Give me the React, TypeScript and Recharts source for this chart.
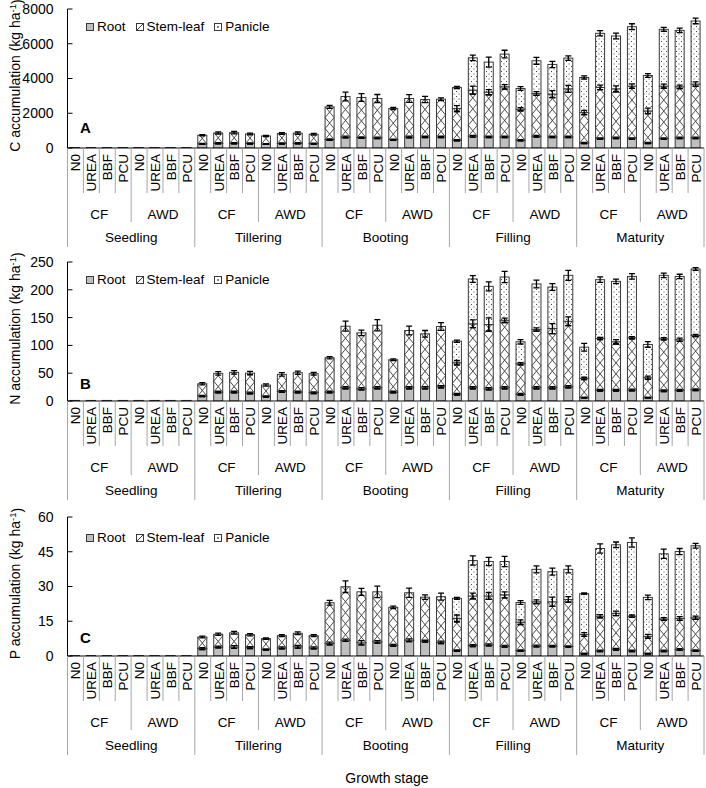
import React from 'react';
import { BarChart, Bar, XAxis, YAxis, Legend } from 'recharts';

const FONT = '"Liberation Sans", Arial, Helvetica, sans-serif';

const stages = ['Seedling', 'Tillering', 'Booting', 'Filling', 'Maturity'];
const regimes = ['CF', 'AWD'];
const fertilizers = ['N0', 'UREA', 'BBF', 'PCU'];
const seriesNames = ['Root', 'Stem-leaf', 'Panicle'];

// segment values (not cumulative), in category order: stage > regime > fertilizer
// C accumulation (kg ha-1)
const cRoot = [12, 12, 12, 12, 12, 12, 12, 12, 240, 270, 270, 260, 230, 260, 270, 250, 485, 635, 600, 585, 480, 635, 635, 635, 445, 675, 635, 635, 445, 675, 635, 635, 290, 540, 585, 540, 290, 540, 585, 585];
const cStem = [18, 18, 18, 18, 18, 18, 18, 18, 493, 596, 610, 548, 462, 570, 580, 540, 1880, 2330, 2308, 2265, 1790, 2215, 2155, 2175, 1825, 2655, 2580, 2885, 1790, 2465, 2465, 2770, 1750, 2945, 2820, 3020, 1845, 3020, 2935, 3090];
const cPanicle = [0, 0, 0, 0, 0, 0, 0, 0, 0, 0, 0, 0, 0, 0, 0, 0, 0, 0, 0, 0, 0, 0, 0, 0, 1215, 1860, 1730, 1885, 1190, 1880, 1710, 1770, 2020, 3115, 3040, 3420, 2040, 3270, 3250, 3635];
const cRootErr = [0, 0, 0, 0, 0, 0, 0, 0, 30, 35, 35, 30, 25, 30, 35, 30, 40, 45, 40, 40, 35, 45, 40, 40, 30, 50, 40, 40, 30, 45, 40, 40, 30, 40, 40, 40, 30, 40, 40, 40];
const cStemErr = [0, 0, 0, 0, 0, 0, 0, 0, 40, 60, 70, 50, 40, 50, 70, 50, 80, 250, 220, 230, 60, 220, 180, 80, 170, 230, 150, 130, 90, 110, 200, 200, 120, 130, 170, 130, 160, 120, 100, 130];
const cPanicleErr = [0, 0, 0, 0, 0, 0, 0, 0, 0, 0, 0, 0, 0, 0, 0, 0, 0, 0, 0, 0, 0, 0, 0, 0, 60, 160, 290, 220, 110, 200, 180, 130, 90, 150, 170, 170, 110, 110, 130, 160];
const cTicks = [0, 2000, 4000, 6000, 8000];

// N accumulation (kg ha-1)
const nRoot = [0.4, 0.4, 0.4, 0.4, 0.4, 0.4, 0.4, 0.4, 9, 16, 16, 14.5, 8, 17, 16, 15, 16, 24, 22, 24, 16, 24, 23.7, 25.8, 12, 24, 22, 24, 12, 24, 24, 25.8, 6, 19.2, 19.2, 19.8, 6, 18.6, 19.2, 20.4];
const nStem = [0.6, 0.6, 0.6, 0.6, 0.6, 0.6, 0.6, 0.6, 22, 33.7, 35.5, 35.7, 20.7, 30.9, 34.9, 34.1, 61.8, 110.5, 100.6, 112.3, 58.2, 102.8, 97.1, 108.2, 56.8, 114.8, 115.5, 121.2, 55, 104.6, 106.3, 117.6, 34.7, 93.2, 87.3, 93.9, 35.9, 93.3, 90.9, 97.4];
const nPanicle = [0, 0, 0, 0, 0, 0, 0, 0, 0, 0, 0, 0, 0, 0, 0, 0, 0, 0, 0, 0, 0, 0, 0, 0, 38.8, 80.7, 68.7, 77.8, 39.5, 81.9, 74.7, 82.6, 56.1, 105.8, 108.7, 110.4, 59.8, 114.1, 113.9, 119.6];
const nRootErr = [0, 0, 0, 0, 0, 0, 0, 0, 1, 1.5, 1.5, 1.5, 1, 1.5, 1.5, 1.5, 1.5, 2, 2, 2, 1.5, 2, 2, 2, 1.5, 2, 2, 2, 1.5, 2, 2, 2, 1, 1.5, 1.5, 1.5, 1, 1.5, 1.5, 1.5];
const nStemErr = [0, 0, 0, 0, 0, 0, 0, 0, 2, 3, 3, 3, 2, 3, 3, 2.5, 2, 9, 5, 10, 1.5, 8, 6, 7, 4, 7, 12, 4, 2, 3, 9, 8, 2, 2, 4, 2, 3, 2, 3, 2];
const nPanicleErr = [0, 0, 0, 0, 0, 0, 0, 0, 0, 0, 0, 0, 0, 0, 0, 0, 0, 0, 0, 0, 0, 0, 0, 0, 2, 6, 8, 10, 4, 7, 6, 9, 7, 5, 4, 5, 5, 4, 4, 2.5];
const nTicks = [0, 50, 100, 150, 200, 250];

// P accumulation (kg ha-1)
const pRoot = [0.08, 0.08, 0.08, 0.08, 0.08, 0.08, 0.08, 0.08, 3.2, 3.9, 3.9, 3.6, 2.8, 3.5, 4.0, 3.5, 5.4, 6.8, 5.7, 6.1, 4.6, 6.8, 6.4, 5.9, 2.3, 4.5, 4.8, 4.2, 2.3, 4.3, 4.3, 4.1, 1.0, 2.2, 2.9, 2.2, 1.0, 2.2, 2.8, 2.3];
const pStem = [0.12, 0.12, 0.12, 0.12, 0.12, 0.12, 0.12, 0.12, 5, 5.5, 6.1, 5.6, 4.7, 5.3, 5.8, 5.3, 17.6, 23.1, 22, 21.6, 16.4, 20.5, 19, 19.7, 13.9, 21.4, 21.1, 22.2, 12.3, 19.1, 19.1, 20.3, 8.3, 15, 15.5, 15, 7.5, 13.8, 13.4, 14.2];
const pPanicle = [0, 0, 0, 0, 0, 0, 0, 0, 0, 0, 0, 0, 0, 0, 0, 0, 0, 0, 0, 0, 0, 0, 0, 0, 8.7, 15.3, 14.9, 14.4, 8.5, 14, 13, 13, 17.6, 29.2, 29.6, 31.8, 16.8, 28.1, 28.9, 31.1];
const pRootErr = [0, 0, 0, 0, 0, 0, 0, 0, 0.4, 0.4, 0.6, 0.4, 0.3, 0.4, 0.6, 0.4, 0.6, 0.5, 0.9, 0.5, 0.4, 0.6, 0.4, 0.5, 0.3, 0.4, 0.4, 0.4, 0.3, 0.4, 0.3, 0.3, 0.2, 0.3, 0.4, 0.3, 0.2, 0.3, 0.4, 0.3];
const pStemErr = [0, 0, 0, 0, 0, 0, 0, 0, 0.4, 0.5, 0.6, 0.5, 0.3, 0.4, 0.6, 0.4, 1, 2.5, 1.5, 2.5, 0.5, 2, 1, 1.5, 1.5, 1.2, 1.5, 1.3, 1, 0.8, 2, 1.2, 0.8, 0.7, 1, 0.5, 0.8, 0.6, 0.8, 0.7];
const pPanicleErr = [0, 0, 0, 0, 0, 0, 0, 0, 0, 0, 0, 0, 0, 0, 0, 0, 0, 0, 0, 0, 0, 0, 0, 0, 0.4, 2, 1.8, 2.2, 0.8, 1.5, 1.5, 1.5, 0.3, 2, 1.2, 2, 1, 2, 1.3, 1];
const pTicks = [0, 15, 30, 45, 60];

const categories = stages.flatMap((stage) =>
  regimes.flatMap((regime) => fertilizers.map((fert) => ({ stage, regime, fert })))
);

function buildRows(root: number[], stem: number[], panicle: number[], rootErr: number[], stemErr: number[], panicleErr: number[]) {
  return categories.map((c, i) => ({
    cat: `${c.stage}|${c.regime}|${c.fert}`,
    ...c,
    root: root[i],
    stem: stem[i],
    panicle: panicle[i],
    rootErr: rootErr[i],
    stemErr: stemErr[i],
    panicleErr: panicleErr[i],
  }));
}

const cRows = buildRows(cRoot, cStem, cPanicle, cRootErr, cStemErr, cPanicleErr);
const nRows = buildRows(nRoot, nStem, nPanicle, nRootErr, nStemErr, nPanicleErr);
const pRows = buildRows(pRoot, pStem, pPanicle, pRootErr, pStemErr, pPanicleErr);

const SEGMENTS = ['root', 'stem', 'panicle'];
const OUTLINE = '#3a3a3a';
const ROOT_FILL = '#bfbfbf';

// X pattern for stem-leaf, one X per cell, stacked from the bottom of the segment
function crossHatch(x: number, y: number, w: number, h: number, period: number) {
  let d = '';
  for (let yb = y + h; yb > y + 0.01; yb -= period) {
    const yt = Math.max(y, yb - period);
    const t = (yb - yt) / period;
    d += `M${x},${yb}L${x + w * t},${yt}M${x + w},${yb}L${x + w - w * t},${yt}`;
  }
  return d;
}

function Whisker({ cx, cy, e }: { cx: number; cy: number; e: number }) {
  if (!(e > 0)) return null;
  const cap = 3;
  return (
    <path
      d={`M${cx},${cy - e}V${cy + e}M${cx - cap},${cy - e}H${cx + cap}M${cx - cap},${cy + e}H${cx + cap}`}
      stroke="#000"
      strokeWidth={1.3}
      fill="none"
    />
  );
}

function makeShape(seg: number, fill: string) {
  const key = SEGMENTS[seg];
  return (props: any) => {
    const { x, y, width, height, payload } = props;
    const v = payload?.[key];
    if (!(height > 0) || !(v > 0)) return <g />;
    const k = height / v;
    const cx = x + width / 2;
    return (
      <g>
        <rect x={x} y={y} width={width} height={height} fill={fill} stroke={OUTLINE} strokeWidth={1} />
        {seg === 1 && (
          <path d={crossHatch(x, y, width, height, 11)} stroke={OUTLINE} strokeWidth={0.9} fill="none" />
        )}
        {/* error of the segment below, redrawn over this segment's fill */}
        {seg > 0 && <Whisker cx={cx} cy={y + height} e={payload[SEGMENTS[seg - 1] + 'Err'] * k} />}
        <Whisker cx={cx} cy={y} e={payload[key + 'Err'] * k} />
      </g>
    );
  };
}

const rootShape = makeShape(0, ROOT_FILL);
const stemShape = makeShape(1, '#fff');
const panicleShape = makeShape(2, 'url(#panicleDots)');

function CategoryTick(props: any) {
  const { x, y, payload } = props;
  const i = payload.index;
  const c = categories[i];
  if (!c) return null;
  const half = payload.offset || 636.5 / categories.length / 2;
  const depth = (j: number) => (j % 8 === 0 ? 99 : j % 4 === 0 ? 74 : 45);
  return (
    <g>
      <line x1={x - half} x2={x - half} y1={y} y2={y + depth(i)} stroke="#a6a6a6" />
      {i === categories.length - 1 && (
        <line x1={x + half} x2={x + half} y1={y} y2={y + 99} stroke="#a6a6a6" />
      )}
      <text
        transform={`translate(${x},${y + 6}) rotate(-90)`}
        textAnchor="end"
        dy="0.36em"
        fontSize={13.5}
        fill="#000"
      >
        {c.fert}
      </text>
      {i % 4 === 1 && (
        <text x={x + half} y={y + 66} textAnchor="middle" dy="0.36em" fontSize={13.5} fill="#000">
          {c.regime}
        </text>
      )}
      {i % 8 === 3 && (
        <text x={x + half} y={y + 89} textAnchor="middle" dy="0.36em" fontSize={13.5} fill="#000">
          {c.stage}
        </text>
      )}
    </g>
  );
}

function LegendIcon({ name }: { name: string }) {
  return (
    <svg width={8} height={8} style={{ display: 'block' }}>
      <rect x={0.5} y={0.5} width={7} height={7} fill={name === 'Root' ? ROOT_FILL : '#fff'} stroke={OUTLINE} />
      {name === 'Stem-leaf' && <path d="M0.5 7.5L7.5 0.5" stroke={OUTLINE} />}
      {name === 'Panicle' && <rect x={3.3} y={3.3} width={1.4} height={1.4} fill="#000" />}
    </svg>
  );
}

function LegendContent(props: any) {
  const items = [...(props.payload || [])].sort(
    (a: any, b: any) => seriesNames.indexOf(a.value) - seriesNames.indexOf(b.value)
  );
  return (
    <div style={{ display: 'flex', alignItems: 'center', fontSize: 13.5, lineHeight: '16px', color: '#000', fontFamily: FONT }}>
      {items.map((p: any, i: number) => (
        <div key={i} style={{ display: 'flex', alignItems: 'center', marginRight: 10 }}>
          <LegendIcon name={p.value} />
          <span style={{ marginLeft: 3 }}>{p.value}</span>
        </div>
      ))}
    </div>
  );
}

const W = 706;
const H = 252;

function Panel({ rows, max, ticks, element, letter, top, letterY, legendTop }: any) {
  return (
    <div style={{ position: 'absolute', left: 0, top, width: W, height: H }}>
      <BarChart width={W} height={H} data={rows} margin={{ top: 9, right: 2, bottom: 0, left: 0 }} barSize={9}>
        <XAxis
          dataKey="cat"
          interval={0}
          height={104}
          tick={<CategoryTick />}
          tickLine={false}
          tickSize={0}
          tickMargin={0}
          axisLine={{ stroke: '#000' }}
        />
        <XAxis xAxisId="top" dataKey="cat" orientation="top" height={0} tick={false} tickLine={false} axisLine={{ stroke: '#000' }} />
        <YAxis
          domain={[0, max]}
          ticks={ticks}
          allowDataOverflow
          width={67.5}
          tickSize={-5}
          tickMargin={19}
          tickLine={{ stroke: '#000' }}
          axisLine={{ stroke: '#000' }}
          tick={{ fill: '#000', fontSize: 14 }}
        />
        <YAxis yAxisId="right" orientation="right" width={0} tick={false} tickLine={false} axisLine={{ stroke: '#000' }} />
        <Legend
          layout="horizontal"
          verticalAlign="middle"
          align="center"
          content={<LegendContent />}
          wrapperStyle={{ top: legendTop, left: 86, width: 'auto', height: 'auto' }}
        />
        <Bar dataKey="root" name="Root" stackId="s" fill={ROOT_FILL} shape={rootShape} isAnimationActive={false} />
        <Bar dataKey="stem" name="Stem-leaf" stackId="s" fill="#fff" shape={stemShape} isAnimationActive={false} />
        <Bar dataKey="panicle" name="Panicle" stackId="s" fill="url(#panicleDots)" shape={panicleShape} isAnimationActive={false} />
      </BarChart>
      <svg width={W} height={H} style={{ position: 'absolute', left: 0, top: 0, pointerEvents: 'none' }}>
        <text x={80} y={letterY} fontSize={15} fontWeight="bold" fill="#000">
          {letter}
        </text>
        <text transform={`translate(15,${9 + 139 / 2 - 3}) rotate(-90)`} textAnchor="middle" dy="0.36em" fontSize={14} fill="#000">
          {element} accumulation (kg ha
          <tspan dy="-0.45em" fontSize={9.5}>-1</tspan>
          <tspan dy="0.45em">)</tspan>
        </text>
      </svg>
    </div>
  );
}

export default function App() {
  return (
    <div style={{ position: 'absolute', left: 0, top: 0, width: W, height: 788, background: '#fff', fontFamily: FONT, overflow: 'hidden' }}>
      <svg width={0} height={0} style={{ position: 'absolute' }}>
        <defs>
          <pattern id="panicleDots" patternUnits="userSpaceOnUse" width={5} height={5}>
            <rect width={5} height={5} fill="#fff" />
            <rect x={1} y={1} width={1} height={1} fill="#444" />
            <rect x={3.5} y={3.5} width={1} height={1} fill="#444" />
          </pattern>
        </defs>
      </svg>
      <Panel rows={cRows} max={8000} ticks={cTicks} element="C" letter="A" top={0} letterY={133} legendTop={19} />
      <Panel rows={nRows} max={250} ticks={nTicks} element="N" letter="B" top={253} letterY={136} legendTop={19} />
      <Panel rows={pRows} max={60} ticks={pTicks} element="P" letter="C" top={508} letterY={135} legendTop={22} />
      <div style={{ position: 'absolute', left: 0, top: 770, width: W, textAlign: 'center', fontSize: 14, paddingLeft: 68, boxSizing: 'border-box', color: '#000' }}>
        Growth stage
      </div>
    </div>
  );
}
